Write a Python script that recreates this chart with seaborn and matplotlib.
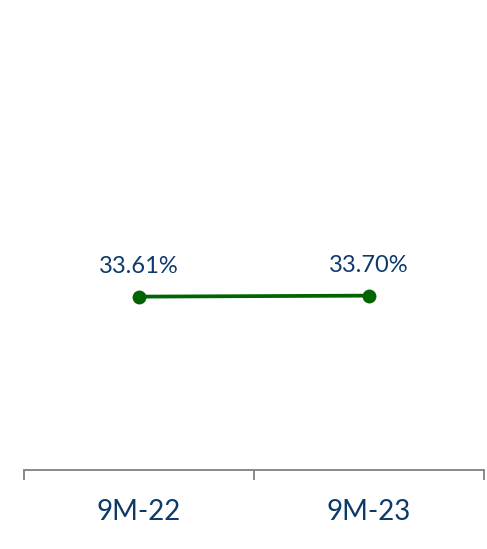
import matplotlib
matplotlib.use("Agg")
import matplotlib.pyplot as plt
import seaborn as sns
import pandas as pd

periods = ["9M-22", "9M-23"]
ratio = [33.61, 33.70]
labels = ["33.61%", "33.70%"]

sns.set_theme(style="white")
plt.rcParams['font.family'] = ['Lato', 'DejaVu Sans']

df = pd.DataFrame({"period": periods, "ratio": ratio})

fig = plt.figure(figsize=(4.87, 5.49), dpi=100, facecolor='w')
ax = fig.add_axes([24/487, 79/549, 460/487, 450/549])

sns.lineplot(data=df, x="period", y="ratio", ax=ax, color='#006400',
             linewidth=2.7, marker='o', markersize=10, markeredgewidth=0,
             sort=False)

for i, (v, t) in enumerate(zip(ratio, labels)):
    ax.annotate(t, (i, v), xytext=(0, 14), textcoords='offset points',
                ha='center', va='bottom', fontsize=17, color='#0E3A6B')

ax.set_xlim(-0.5, 1.5)
ax.set_ylim(18.2, 58.2)
ax.set_xlabel('')
ax.set_ylabel('')
ax.set_yticks([])
for s in ['top', 'right', 'left']:
    ax.spines[s].set_visible(False)
ax.spines['bottom'].set_color('#808080')
ax.spines['bottom'].set_linewidth(1.3)

ax.set_xticks([-0.5, 0.5, 1.5])
ax.set_xticklabels([])
ax.tick_params(axis='x', which='major', direction='out', length=7,
               width=1.3, color='#808080', bottom=True)
ax.set_xticks([0, 1], minor=True)
ax.set_xticklabels(periods, minor=True)
ax.tick_params(axis='x', which='minor', length=0, pad=21, labelsize=20,
               labelcolor='#0E3A6B')

fig.savefig('out.png', dpi=100)
